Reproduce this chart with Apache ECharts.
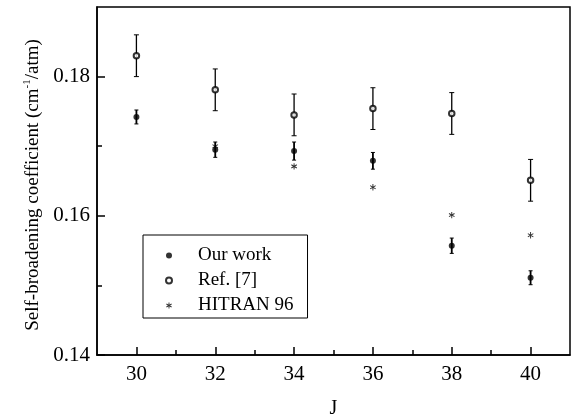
<!DOCTYPE html>
<html>
<head>
<meta charset="utf-8">
<script src="https://cdn.jsdelivr.net/npm/echarts@6/dist/echarts.min.js"></script>
<style>
  html, body { margin: 0; padding: 0; background: #fff; }
  #chart { width: 574px; height: 416px; }
</style>
</head>
<body>
<div id="chart"></div>
<script>
// J values and measured coefficients (cm-1/atm)
const jValues = [30, 32, 34, 36, 38, 40];
const ourWork = [0.1742, 0.1695, 0.1693, 0.1679, 0.1557, 0.1511];
const ourWorkErr = [0.0010, 0.0011, 0.0013, 0.0012, 0.0011, 0.0010];
const ref7 = [0.1830, 0.1781, 0.1745, 0.1754, 0.1747, 0.1651];
const ref7Err = [0.0030, 0.0030, 0.0030, 0.0030, 0.0030, 0.0030];
const hitranJ = [32, 34, 36, 38, 40];
const hitran = [0.1700, 0.1671, 0.1641, 0.1601, 0.1572];

// axis ticks
const xMajor = [30, 32, 34, 36, 38, 40];
const xMinor = [31, 33, 35, 37, 39];
const yMajor = [0.14, 0.16, 0.18];
const yMinor = [0.15, 0.17];

const FONT = 'Liberation Serif';
const chart = echarts.init(document.getElementById('chart'));

const pairs = (xs, ys) => xs.map((x, i) => [x, ys[i]]);
const barData = (vals, errs) => jValues.map((j, i) => [j, vals[i] - errs[i], vals[i] + errs[i]]);

const errorBar = (lw, cap) => (params, api) => {
  const lo = api.coord([api.value(0), api.value(1)]);
  const hi = api.coord([api.value(0), api.value(2)]);
  const style = { stroke: '#000', lineWidth: lw };
  const capStyle = { stroke: '#000', lineWidth: 1 };
  return {
    type: 'group',
    children: [
      { type: 'line', shape: { x1: lo[0], y1: lo[1], x2: hi[0], y2: hi[1] }, style },
      { type: 'line', shape: { x1: lo[0] - cap, y1: lo[1], x2: lo[0] + cap, y2: lo[1] }, style: capStyle },
      { type: 'line', shape: { x1: hi[0] - cap, y1: hi[1], x2: hi[0] + cap, y2: hi[1] }, style: capStyle }
    ]
  };
};

const asterisk = 'path://M0.85,0L1.15,0L1.15,2L0.85,2Z' +
  'M1.791,0.37L1.941,0.63L0.209,1.63L0.059,1.37Z' +
  'M1.941,1.37L1.791,1.63L0.059,0.63L0.209,0.37Z';

const hiddenAxisBits = {
  axisLine: { show: false },
  axisLabel: { show: false },
  splitLine: { show: false }
};

chart.setOption({
  animation: false,
  grid: {
    left: 97, right: 4, top: 7, bottom: 61,
    outerBoundsMode: 'none', containLabel: false,
    show: true, borderColor: '#000', borderWidth: 1.5
  },
  legend: {
    left: 143, top: 235,
    orient: 'vertical',
    data: ['Our work', 'Ref. [7]', 'HITRAN 96'],
    itemWidth: 48, itemHeight: 6, itemGap: 6,
    padding: [11, 14, 3, 22],
    borderColor: '#000', borderWidth: 1,
    textStyle: { fontFamily: FONT, fontSize: 19, color: '#000' }
  },
  xAxis: [
    {
      type: 'value', min: 29, max: 41,
      name: 'J', nameLocation: 'middle', nameGap: 44,
      nameTextStyle: { fontFamily: FONT, fontSize: 20, color: '#000' },
      axisLine: { lineStyle: { color: '#000', width: 1.5 } },
      axisTick: { inside: true, length: 8, customValues: xMajor, lineStyle: { color: '#000', width: 1.5 } },
      axisLabel: { customValues: xMajor, margin: 9, fontFamily: FONT, fontSize: 21, color: '#000' },
      splitLine: { show: false }
    },
    {
      type: 'value', min: 29, max: 41, position: 'bottom',
      axisTick: { inside: true, length: 5, customValues: xMinor, lineStyle: { color: '#000', width: 1.5 } },
      ...hiddenAxisBits
    }
  ],
  yAxis: [
    {
      type: 'value', min: 0.14, max: 0.19,
      name: '{a|Self-broadening coefficient (cm}{s|-1}{a|/atm)}',
      nameLocation: 'middle', nameGap: 44, nameRotate: 90,
      nameTextStyle: {
        fontFamily: FONT, color: '#000', padding: [0, 8, 0, 0],
        rich: {
          a: { fontFamily: FONT, fontSize: 19, color: '#000', lineHeight: 22 },
          s: { fontFamily: FONT, fontSize: 11, color: '#000', lineHeight: 22, verticalAlign: 'top' }
        }
      },
      axisLine: { lineStyle: { color: '#000', width: 1.5 } },
      axisTick: { inside: true, length: 8, customValues: yMajor, lineStyle: { color: '#000', width: 1.5 } },
      axisLabel: {
        customValues: yMajor, margin: 7, fontFamily: FONT, fontSize: 21, color: '#000',
        formatter: v => v.toFixed(2)
      },
      splitLine: { show: false }
    },
    {
      type: 'value', min: 0.14, max: 0.19, position: 'left',
      axisTick: { inside: true, length: 5, customValues: yMinor, lineStyle: { color: '#000', width: 1.5 } },
      ...hiddenAxisBits
    }
  ],
  series: [
    {
      name: 'ourErr', type: 'custom', renderItem: errorBar(1.8, 2),
      data: barData(ourWork, ourWorkErr), z: 2, silent: true
    },
    {
      name: 'refErr', type: 'custom', renderItem: errorBar(1.3, 2.5),
      data: barData(ref7, ref7Err), z: 2, silent: true
    },
    {
      name: 'Our work', type: 'scatter', symbol: 'circle', symbolSize: 6,
      itemStyle: { color: '#000' }, data: pairs(jValues, ourWork), z: 3
    },
    {
      name: 'Ref. [7]', type: 'scatter', symbol: 'emptyCircle', symbolSize: 5.5,
      itemStyle: { color: '#000', borderColor: '#000', borderWidth: 0.8 },
      data: pairs(jValues, ref7), z: 3
    },
    {
      name: 'HITRAN 96', type: 'scatter', symbol: asterisk, symbolSize: [6, 6.4],
      itemStyle: { color: '#000' }, data: pairs(hitranJ, hitran), z: 3
    }
  ]
});
</script>
</body>
</html>
